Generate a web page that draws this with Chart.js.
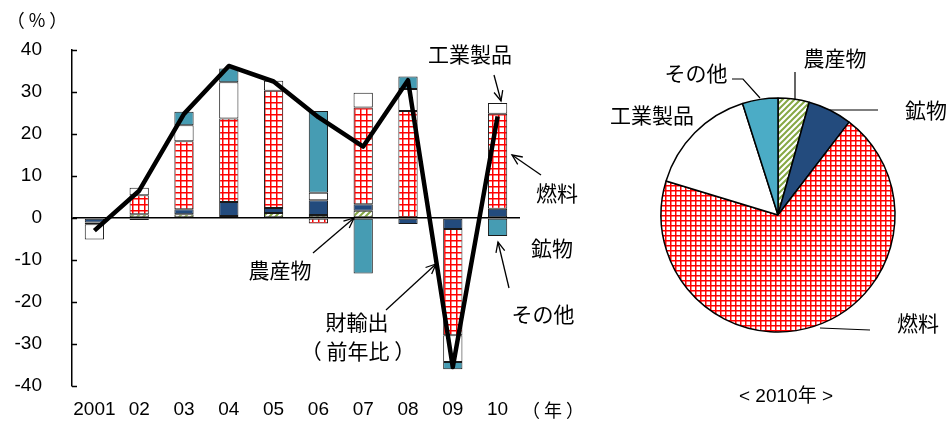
<!DOCTYPE html>
<html>
<head>
<meta charset="utf-8">
<script src="https://cdn.jsdelivr.net/npm/chart.js@4.4.0/dist/chart.umd.min.js"></script>
<style>
  html, body { margin: 0; padding: 0; background: #fff; }
  #wrap { position: relative; width: 948px; height: 421px; overflow: hidden; background: #fff; }
  #bar { position: absolute; left: 0; top: 0; }
  #pie { position: absolute; left: 600px; top: 0; }
</style>
</head>
<body>
<div id="wrap">
  <canvas id="bar" width="600" height="421"></canvas>
  <canvas id="pie" width="348" height="421"></canvas>
</div>
<script>
// ---- data: contributions to export growth by commodity (percentage points) ----
const years = ['2001', '02', '03', '04', '05', '06', '07', '08', '09', '10'];
const agri       = [null, 0.9, 0.9, 0.5, 1.2, 0.7, 1.7, null, null, null];
const mineral    = [-1.1, -0.5, 1.2, 3.3, 1.2, 3.5, 1.6, -1.4, -2.6, 2.2];
const fuel       = [-0.4, 4.5, 16.2, 19.9, 27.9, -1.3, 23.0, 25.5, -25.3, 22.6];
const industrial = [-3.6, 1.8, 3.8, 8.6, 2.4, 1.8, 3.5, 5.2, -6.4, 2.6];
const other      = [null, null, 3.2, 3.3, null, 19.5, -13.2, 3.0, -1.7, -4.3];
const exportsYoY = [-3.0, 6.5, 24.8, 36.2, 32.5, 24.0, 17.0, 32.8, -35.5, 24.2];
const yTicks     = [40, 30, 20, 10, 0, -10, -20, -30, -40];

// ---- 2010 export composition (%) ----
const pieLabels = ['農産物', '鉱物', '燃料', '工業製品', 'その他'];
const share2010 = [4.3, 6.1, 69.3, 15.4, 4.9];

const NUM_FONT = '"Liberation Sans", Arial, "Noto Sans CJK JP", sans-serif';
const JP_FONT = '"Noto Sans CJK JP", "Liberation Sans", sans-serif';

// fill patterns
function redGrid(ctx, cell, lw) {
  const c = document.createElement('canvas');
  c.width = c.height = cell;
  const g = c.getContext('2d');
  g.fillStyle = '#fff'; g.fillRect(0, 0, cell, cell);
  g.fillStyle = '#ff0000';
  g.fillRect(0, 0, cell, lw);
  g.fillRect(0, 0, lw, cell);
  return ctx.createPattern(c, 'repeat');
}
function greenHatch(ctx, cell) {
  const c = document.createElement('canvas');
  c.width = c.height = cell;
  const g = c.getContext('2d');
  g.fillStyle = '#fff'; g.fillRect(0, 0, cell, cell);
  g.strokeStyle = '#86A845';
  g.lineWidth = 2;
  g.beginPath();
  g.moveTo(-1, cell + 1); g.lineTo(cell + 1, -1);
  g.moveTo(-1, 1); g.lineTo(1, -1);
  g.moveTo(cell - 1, cell + 1); g.lineTo(cell + 1, cell - 1);
  g.stroke();
  return ctx.createPattern(c, 'repeat');
}

function arrow(ctx, x1, y1, x2, y2) {
  ctx.beginPath(); ctx.moveTo(x1, y1); ctx.lineTo(x2, y2); ctx.stroke();
  const a = Math.atan2(y2 - y1, x2 - x1), L = 11, w = 0.42;
  ctx.beginPath();
  ctx.moveTo(x2 - L * Math.cos(a - w), y2 - L * Math.sin(a - w));
  ctx.lineTo(x2, y2);
  ctx.lineTo(x2 - L * Math.cos(a + w), y2 - L * Math.sin(a + w));
  ctx.stroke();
}
function text(ctx, s, x, y, font, align) {
  ctx.font = font;
  ctx.fillStyle = '#000';
  ctx.textAlign = align || 'center';
  ctx.textBaseline = 'middle';
  ctx.fillText(s, x, y);
}

// ---------------- bar + line chart ----------------
const barCtx = document.getElementById('bar').getContext('2d');
const gridFill = redGrid(barCtx, 6, 1.5);
const hatchFill = greenHatch(barCtx, 6);

const seg = {
  borderColor: '#1a1a1a', borderWidth: 1, borderSkipped: false,
  stack: 'parts', order: 1, barPercentage: 0.43, categoryPercentage: 1
};

const barDecor = {
  id: 'barDecor',
  afterDraw(chart) {
    const ctx = chart.ctx;
    const ys = chart.scales.y;
    const left = chart.chartArea.left;
    ctx.save();
    // inner tick marks on the value axis
    ctx.strokeStyle = '#000';
    ctx.lineWidth = 1.5;
    ys.ticks.forEach(t => {
      const p = Math.round(ys.getPixelForValue(t.value)) + 0.5;
      ctx.beginPath(); ctx.moveTo(left, p); ctx.lineTo(left + 5, p); ctx.stroke();
    });
    // unit labels
    text(ctx, '（ % ）', 37, 20, '18px ' + JP_FONT);
    text(ctx, '（ 年 ）', 553, 410, '18px ' + JP_FONT);
    // commodity callouts
    const f = '21px ' + JP_FONT;
    text(ctx, '工業製品', 470, 54, f);
    text(ctx, '燃料', 557, 193, f);
    text(ctx, '鉱物', 552, 248, f);
    text(ctx, 'その他', 543, 314, f);
    text(ctx, '農産物', 280, 270, f);
    text(ctx, '財輸出', 357, 322, f);
    text(ctx, '（ 前年比 ）', 358, 351, f);
    ctx.lineWidth = 1.3;
    arrow(ctx, 494, 75, 501, 101);
    arrow(ctx, 541, 175, 512, 155);
    arrow(ctx, 509, 288, 498, 242);
    arrow(ctx, 313, 253, 354, 218);
    arrow(ctx, 386, 310, 436, 264);
    ctx.restore();
  }
};

new Chart(barCtx, {
  data: {
    labels: years,
    datasets: [
      { type: 'line', label: '財輸出（前年比）', data: exportsYoY, borderColor: '#000',
        borderWidth: 4.5, pointRadius: 0, tension: 0, stack: 'total', order: 0,
        borderJoinStyle: 'round', fill: false },
      { type: 'bar', label: '農産物', data: agri, backgroundColor: hatchFill, ...seg },
      { type: 'bar', label: '鉱物', data: mineral, backgroundColor: '#234B7D', ...seg },
      { type: 'bar', label: '燃料', data: fuel, backgroundColor: gridFill, ...seg },
      { type: 'bar', label: '工業製品', data: industrial, backgroundColor: '#ffffff', ...seg },
      { type: 'bar', label: 'その他', data: other, backgroundColor: '#469CB3', ...seg }
    ]
  },
  options: {
    responsive: false,
    animation: false,
    devicePixelRatio: 1,
    layout: { padding: { left: 0, right: 80, top: 50, bottom: 0 } },
    plugins: { legend: { display: false }, tooltip: { enabled: false } },
    scales: {
      x: {
        stacked: true,
        grid: { display: false, drawTicks: false },
        border: { display: false },
        ticks: { color: '#000', font: { family: NUM_FONT, size: 19 }, padding: 12,
                 maxRotation: 0, autoSkip: false },
        afterFit(s) { s.height = 35; }
      },
      y: {
        stacked: true,
        min: -40, max: 40,
        afterBuildTicks(s) { s.ticks = yTicks.map(v => ({ value: v })); },
        grid: {
          drawTicks: true,
          tickLength: 30,
          tickColor: 'rgba(0,0,0,0)',
          lineWidth: 1.5,
          color: c => (c.tick && c.tick.value === 0) ? '#000' : 'rgba(0,0,0,0)'
        },
        border: { display: true, color: '#000', width: 1.5 },
        ticks: { color: '#000', font: { family: NUM_FONT, size: 19 }, padding: 0 },
        afterFit(s) { s.width = 72; }
      }
    }
  },
  plugins: [barDecor]
});

// ---------------- 2010 composition pie ----------------
const pieCtx = document.getElementById('pie').getContext('2d');
const pieDecor = {
  id: 'pieDecor',
  afterDraw(chart) {
    const ctx = chart.ctx;
    ctx.save();
    const f = '21px ' + JP_FONT;
    const o = 600;
    text(ctx, '農産物', 835 - o, 58, f);
    text(ctx, '鉱物', 905 - o, 110, f, 'left');
    text(ctx, 'その他', 696 - o, 73, f);
    text(ctx, '工業製品', 652 - o, 115, f);
    text(ctx, '燃料', 897 - o, 323, f, 'left');
    text(ctx, '< 2010年 >', 786 - o, 397, '19px ' + NUM_FONT);
    ctx.strokeStyle = '#000';
    ctx.lineWidth = 1.2;
    ctx.beginPath();
    ctx.moveTo(795 - o, 72); ctx.lineTo(795 - o, 100);
    ctx.moveTo(830 - o, 110); ctx.lineTo(878 - o, 110);
    ctx.moveTo(732 - o, 79); ctx.lineTo(743 - o, 79); ctx.lineTo(760 - o, 98);
    ctx.moveTo(820 - o, 328); ctx.lineTo(870 - o, 330);
    ctx.stroke();
    ctx.restore();
  }
};

new Chart(pieCtx, {
  type: 'pie',
  data: {
    labels: pieLabels,
    datasets: [{
      data: share2010,
      backgroundColor: [greenHatch(pieCtx, 6), '#234B7D', redGrid(pieCtx, 5, 1.5), '#ffffff', '#4BACC6'],
      borderColor: '#000',
      borderWidth: 1.5
    }]
  },
  options: {
    responsive: false,
    animation: false,
    devicePixelRatio: 1,
    radius: 117,
    layout: { padding: { left: 61, right: 53, top: 98, bottom: 89 } },
    plugins: { legend: { display: false }, tooltip: { enabled: false } }
  },
  plugins: [pieDecor]
});
</script>
</body>
</html>
